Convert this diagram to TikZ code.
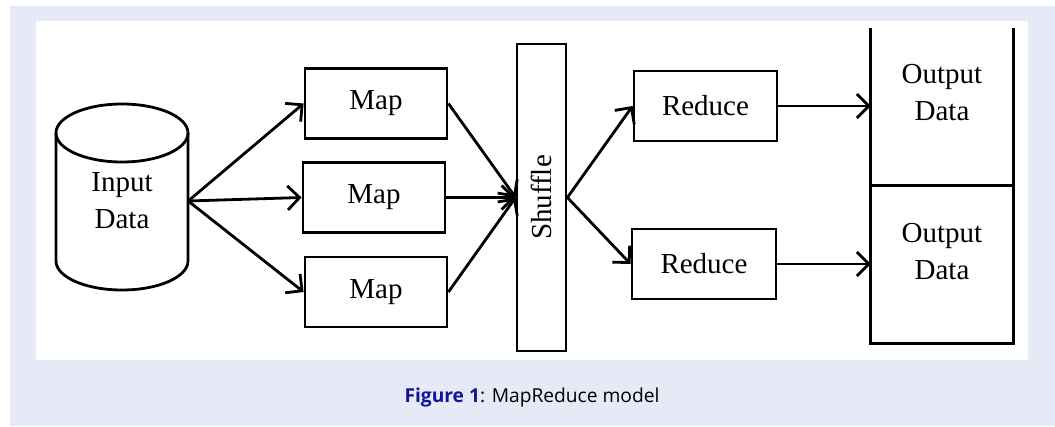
\documentclass[tikz,border=0pt]{standalone}
\usepackage{fontspec}
\setmainfont{Liberation Serif}
\newfontfamily\capfont{Open Sans}
\usepackage{tikz}
\usetikzlibrary{arrows.meta,calc,positioning}
\definecolor{figbg}{RGB}{230,234,246}
\definecolor{figblue}{RGB}{20,20,150}

\begin{document}
\begin{tikzpicture}[x=1pt,y=-1pt,
    box/.style={draw,line width=2.8pt,minimum width=142pt,minimum height=70pt,inner sep=0pt,font=\fontsize{29}{37}\selectfont},
    arr/.style={line width=2.8pt,-{Straight Barb[length=12pt,width=24pt,line width=2.8pt]}},
    txt/.style={align=center,inner sep=0pt,font=\fontsize{29}{37}\selectfont}]
    \useasboundingbox (0,0) rectangle (1055,426);
    \fill[figbg] (10,6) rectangle (1055,426);
    \fill[white] (36,21) rectangle (1028,360);
    % input data
    \draw[line width=2.8pt] (56,133) -- (56,261) arc[start angle=180,end angle=0,x radius=66,y radius=29] -- (188,133);
    \draw[line width=2.8pt] (122,133) ellipse [x radius=66,y radius=29];
    \node[txt,minimum width=132pt] (input) at (122,201) {Input\\Data};
    % map
    \foreach \i/\x/\y in {1/376/103.5,2/374/197.5,3/376/292} {
        \node[box] (map\i) at (\x,\y) {Map};
        \draw[arr] (input.east) -- (map\i.west);
    }
    \node[box,minimum width=49pt,minimum height=307pt] (shuffle) at (541.5,197.5) {\rotatebox{90}{Shuffle}};
    \foreach \i in {1,2,3}
        \draw[arr] (map\i.east) -- (shuffle.west);
    % reduce
    \node[box,minimum width=143pt] (red1) at (705.5,106) {Reduce};
    \node[box,minimum width=144pt] (red2) at (704,264) {Reduce};
    % output data
    \node[minimum width=142pt,minimum height=157pt,inner sep=0pt] (out1) at (942,106.5) {};
    \node[minimum width=142pt,minimum height=158pt,inner sep=0pt] (out2) at (942,264) {};
    \draw[line width=2.8pt] (out1.north west) -- (out2.south west) -- (out2.south east) -- (out1.north east);
    \draw[line width=2.8pt] (out1.south west) -- (out1.south east);
    \node[txt] (otext1) at ([yshift=14pt]out1.center) {Output\\Data};
    \node[txt] (otext2) at ([yshift=12pt]out2.center) {Output\\Data};
    \foreach \i in {1,2} {
        \draw[arr] (shuffle.east) -- (red\i.west);
        \draw[arr] (red\i.east) -- (red\i.east -| out\i.west);
    }
    \node[font=\capfont\fontsize{19.2}{23}\selectfont] (caption) at (532,398) {\textcolor{figblue}{\bfseries Figure 1}: MapReduce model};
\end{tikzpicture}
\end{document}
